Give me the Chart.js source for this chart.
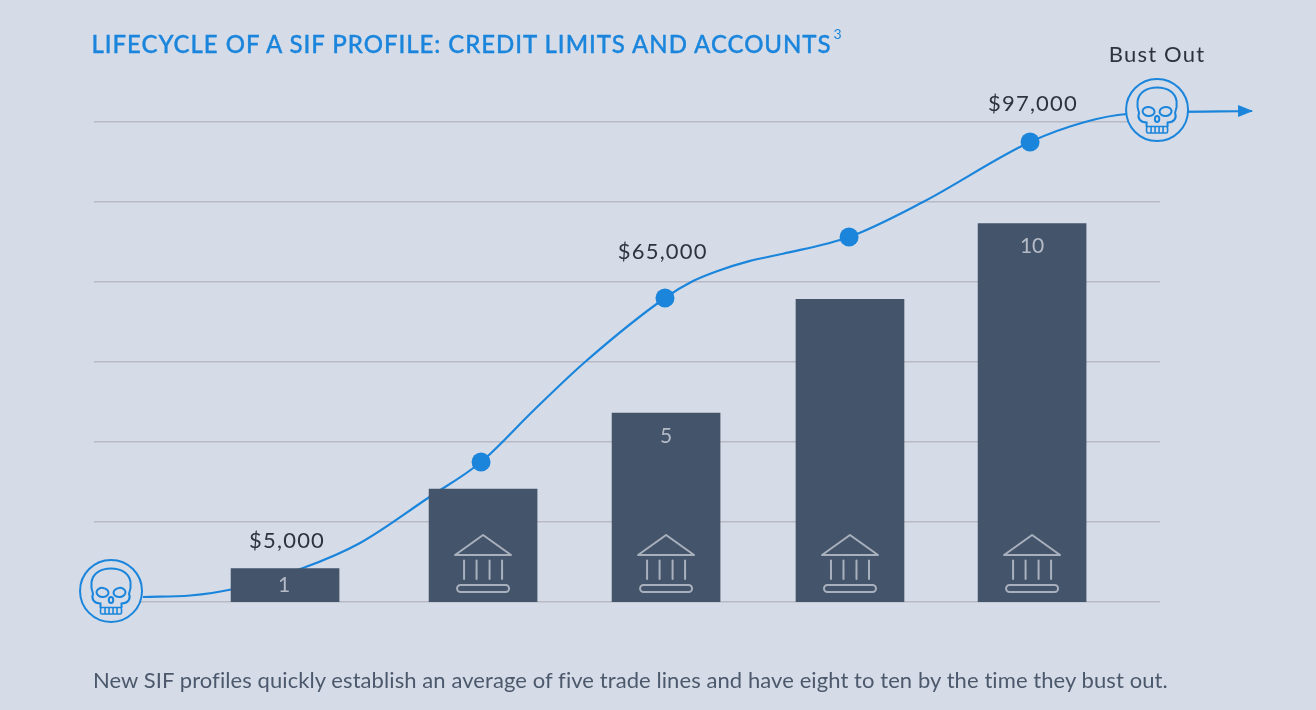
<!DOCTYPE html>
<html>
<head>
<meta charset="utf-8">
<title>Lifecycle of a SIF profile</title>
<script src="https://cdn.jsdelivr.net/npm/chart.js@4/dist/chart.umd.min.js"></script>
<style>
    html, body { margin: 0; padding: 0; background: #d5dce7; overflow: hidden; }
    #wrap { position: relative; width: 1316px; height: 710px; font-family: Lato, sans-serif; }
    #chart { position: absolute; left: 0; top: 0; }
    #title { position: absolute; left: 91.5px; top: 29px; margin: 0; font-size: 24px; font-weight: 500; letter-spacing: 0.95px; -webkit-text-stroke: 0.35px #1b85dc; color: #1b85dc; white-space: nowrap; line-height: 30px; }
    #title sup { font-size: 14px; font-weight: 400; line-height: 0; position: relative; top: -5px; margin-left: 2px; letter-spacing: 0; -webkit-text-stroke: 0; }
    #caption { position: absolute; left: 93px; top: 666px; margin: 0; font-size: 22px; letter-spacing: 0.08px; color: #4c586c; white-space: nowrap; line-height: 28px; }
</style>
</head>
<body>
<div id="wrap">
    <canvas id="chart" width="1316" height="710"></canvas>
    <h2 id="title">LIFECYCLE OF A SIF PROFILE: CREDIT LIMITS AND ACCOUNTS<sup>3</sup></h2>
    <p id="caption">New SIF profiles quickly establish an average of five trade lines and have eight to ten by the time they bust out.</p>
</div>
<script>
// Bars: number of accounts at each stage
const barStages = [1.044, 2.126, 3.126, 4.131, 5.126];
const accounts = [0.88, 2.98, 4.98, 7.98, 9.98];
const accountLabels = ['1', '', '5', '', '10'];

// Credit limit curve
const curveStages = [0.268, 0.525, 0.749, 1.142, 1.454, 1.825, 2.115, 2.399, 2.683, 3.12, 3.273, 3.404, 3.585, 3.765, 4.126, 4.53, 5.115, 5.415, 5.645, 6.328];
const curveDollars = [1060, 1380, 2660, 7220, 12540, 22100, 29750, 40590, 51000, 64600, 68200, 70300, 72500, 74000, 77560, 85000, 97750, 102000, 103700, 104340];

// Marked points on the curve
const dotStages = [2.115, 3.12, 4.126, 5.115];
const dotDollars = [29750, 64600, 77560, 97750];

// Dollar callouts
const calloutStages = [1.055, 3.108, 5.131];
const calloutDollars = [13000, 74300, 105800];
const calloutLabels = ['$5,000', '$65,000', '$97,000'];

// Skull badges at both ends of the curve
const skullStages = [0.093, 5.809];
const skullDollars = [2340, 104550];

const colors = {
    background: '#d5dce7',
    blue: '#1b85dc',
    bar: '#44546a',
    grid: '#b8b9c5',
    text: '#2e343e',
    barText: '#b4bbc7',
    icon: '#a9b0bd'
};

function drawSkull(ctx, cx, cy) {
    ctx.save();
    ctx.translate(cx, cy);
    ctx.strokeStyle = colors.blue;
    ctx.fillStyle = colors.background;
    ctx.lineWidth = 2;
    ctx.beginPath();
    ctx.arc(0, 0, 31, 0, Math.PI * 2);
    ctx.fill();
    ctx.stroke();

    // head
    ctx.beginPath();
    ctx.moveTo(-10.5, 17);
    ctx.lineTo(-10.5, 12.5);
    ctx.bezierCurveTo(-17, 12.5, -20, 8, -18, 3);
    ctx.bezierCurveTo(-20, -2, -20, -5, -19.5, -9);
    ctx.bezierCurveTo(-18, -18, -10, -22.5, 0, -22.5);
    ctx.bezierCurveTo(10, -22.5, 18, -18, 19.5, -9);
    ctx.bezierCurveTo(20, -5, 20, -2, 18, 3);
    ctx.bezierCurveTo(20, 8, 17, 12.5, 10.5, 12.5);
    ctx.lineTo(10.5, 17);
    ctx.stroke();

    // eyes
    ctx.beginPath();
    ctx.ellipse(-8.5, 1.5, 6, 4.6, 0.1, 0, Math.PI * 2);
    ctx.moveTo(14.5, 1.5);
    ctx.ellipse(8.5, 1.5, 6, 4.6, -0.1, 0, Math.PI * 2);
    ctx.stroke();

    // nose
    ctx.beginPath();
    ctx.ellipse(0, 9, 2.2, 3, 0, 0, Math.PI * 2);
    ctx.stroke();

    // teeth
    ctx.lineWidth = 1.6;
    ctx.beginPath();
    ctx.roundRect(-10.5, 16.5, 21, 6.5, 1.5);
    [-6, -2, 2, 6].forEach(x => {
        ctx.moveTo(x, 16.5);
        ctx.lineTo(x, 23);
    });
    ctx.stroke();
    ctx.restore();
}

function drawBank(ctx, cx, bottom) {
    ctx.save();
    ctx.translate(cx, bottom);
    ctx.strokeStyle = colors.icon;
    ctx.lineWidth = 2;
    ctx.lineJoin = 'round';
    ctx.lineCap = 'round';

    // roof
    ctx.beginPath();
    ctx.moveTo(0, -67);
    ctx.lineTo(28, -47);
    ctx.lineTo(-28, -47);
    ctx.closePath();
    ctx.stroke();

    // columns
    ctx.beginPath();
    [-19, -6.5, 6.5, 19].forEach(x => {
        ctx.moveTo(x, -41.5);
        ctx.lineTo(x, -23);
    });
    ctx.stroke();

    // base plate
    ctx.beginPath();
    ctx.roundRect(-26, -17, 52, 7, 3.5);
    ctx.stroke();
    ctx.restore();
}

const decorations = {
    id: 'decorations',
    afterDatasetsDraw(chart) {
        const ctx = chart.ctx;
        const x = chart.scales.x;
        const y = chart.scales.y;
        const y2 = chart.scales.accounts;

        // arrow head at the end of the curve
        const tipX = x.getPixelForValue(curveStages[curveStages.length - 1]);
        const tipY = y.getPixelForValue(curveDollars[curveDollars.length - 1]);
        ctx.fillStyle = colors.blue;
        ctx.beginPath();
        ctx.moveTo(tipX + 1, tipY);
        ctx.lineTo(tipX - 14, tipY - 6);
        ctx.lineTo(tipX - 14, tipY + 6);
        ctx.closePath();
        ctx.fill();

        skullStages.forEach((s, i) => {
            drawSkull(ctx, x.getPixelForValue(s), y.getPixelForValue(skullDollars[i]));
        });

        barStages.forEach((s, i) => {
            const cx = x.getPixelForValue(s);
            if (i > 0) drawBank(ctx, cx, y.bottom);
            if (accountLabels[i]) {
                ctx.font = '21px Lato';
                ctx.fillStyle = colors.barText;
                ctx.textAlign = 'center';
                ctx.textBaseline = 'middle';
                const offset = i === 0 ? 17 : 23;
                const nudge = i === 0 ? -1 : 0;
                ctx.fillText(accountLabels[i], cx + nudge, y2.getPixelForValue(accounts[i]) + offset);
            }
        });

        ctx.font = '22px Lato';
        ctx.letterSpacing = '1.2px';
        ctx.fillStyle = colors.text;
        ctx.textAlign = 'center';
        ctx.textBaseline = 'middle';
        calloutLabels.forEach((label, i) => {
            ctx.fillText(label, x.getPixelForValue(calloutStages[i]), y.getPixelForValue(calloutDollars[i]));
        });
        ctx.fillText('Bust Out', x.getPixelForValue(skullStages[1]), y.getPixelForValue(skullDollars[1]) - 55);
        ctx.letterSpacing = '0px';
    }
};

new Chart(document.getElementById('chart').getContext('2d'), {
    data: {
        datasets: [
            {
                type: 'scatter',
                label: 'Marked limits',
                data: dotStages.map((s, i) => ({ x: s, y: dotDollars[i] })),
                yAxisID: 'y',
                pointRadius: 9.5,
                pointBackgroundColor: colors.blue,
                pointBorderWidth: 0,
                clip: false,
                order: 0
            },
            {
                type: 'bar',
                label: 'Accounts',
                data: barStages.map((s, i) => ({ x: s, y: accounts[i] })),
                yAxisID: 'accounts',
                backgroundColor: colors.bar,
                barThickness: 108,
                order: 1
            },
            {
                type: 'line',
                label: 'Credit limit',
                data: curveStages.map((s, i) => ({ x: s, y: curveDollars[i] })),
                yAxisID: 'y',
                borderColor: colors.blue,
                borderWidth: 2.2,
                pointRadius: 0,
                cubicInterpolationMode: 'monotone',
                clip: false,
                order: 2
            }
        ]
    },
    options: {
        responsive: false,
        animation: false,
        layout: { padding: { left: 94, right: 156, top: 122, bottom: 108 } },
        plugins: {
            legend: { display: false },
            tooltip: { enabled: false }
        },
        scales: {
            x: {
                type: 'linear',
                min: 0,
                max: 5.825,
                offset: false,
                display: false,
                grid: { display: false }
            },
            y: {
                min: 0,
                max: 102000,
                afterBuildTicks(axis) {
                    axis.ticks = [0, 1, 2, 3, 4, 5, 6].map(n => ({ value: n * 17000 }));
                },
                ticks: { display: false },
                border: { display: false },
                grid: { color: colors.grid, lineWidth: 1.5, drawTicks: false }
            },
            accounts: {
                min: 0,
                max: 12.66,
                display: false,
                grid: { display: false }
            }
        }
    },
    plugins: [decorations]
});
</script>
</body>
</html>
